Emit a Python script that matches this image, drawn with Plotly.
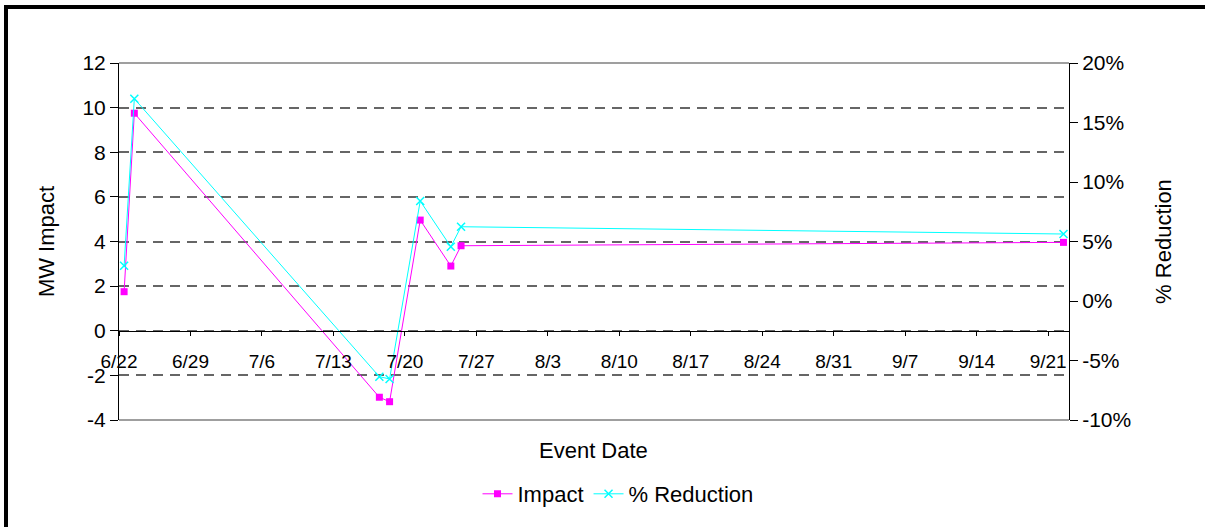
import plotly.graph_objects as go

# ---- data ----
event_dates = ["2008-06-22", "2008-06-23", "2008-07-17", "2008-07-18",
               "2008-07-21", "2008-07-24", "2008-07-25", "2008-09-22"]
impact_mw = [1.75, 9.75, -2.98, -3.18, 4.96, 2.90, 3.81, 3.96]
pct_reduction = [0.0297, 0.170, -0.0636, -0.0655, 0.084, 0.0456, 0.0624, 0.0563]

left_ticks = [-4, -2, 0, 2, 4, 6, 8, 10, 12]
left_labels = ["-4", "-2", "0", "2", "4", "6", "8", "10", "12"]
right_ticks = [-0.10, -0.05, 0.0, 0.05, 0.10, 0.15, 0.20]
right_labels = ["-10%", "-5%", "0%", "5%", "10%", "15%", "20%"]

FONT = "Liberation Sans, Arial, sans-serif"
DAY_MS = 86400000

# plot area in pixels (for paper conversions)
L, R, T, B = 119, 1069, 63, 420
W, H = 1205, 527


def px_x(p):
    return (p - L) / (R - L)


def px_y(p):
    return (B - p) / (B - T)


fig = go.Figure()
fig.add_trace(go.Scatter(
    x=event_dates, y=impact_mw, name="Impact", mode="lines+markers",
    xperiod=DAY_MS, xperiodalignment="middle",
    line=dict(color="#FF00FF", width=1),
    marker=dict(symbol="square", size=7, color="#FF00FF"),
    yaxis="y"))
fig.add_trace(go.Scatter(
    x=event_dates, y=pct_reduction, name="% Reduction", mode="lines+markers",
    xperiod=DAY_MS, xperiodalignment="middle",
    line=dict(color="#00FFFF", width=1),
    marker=dict(symbol="x-thin", size=8, color="#00FFFF",
                line=dict(color="#00FFFF", width=1.5)),
    yaxis="y2"))

fig.update_layout(
    width=W, height=H,
    margin=dict(l=L, r=W - R, t=T, b=H - B),
    paper_bgcolor="white", plot_bgcolor="white",
    font=dict(family=FONT, color="black", size=22),
    xaxis=dict(
        type="date",
        range=["2008-06-22", "2008-09-23 01:00"],
        tick0="2008-06-22", dtick=7 * DAY_MS, tickformat="%-m/%-d",
        anchor="free", position=4 / 16,
        showline=True, linecolor="black", linewidth=1,
        ticks="outside", ticklen=4, tickcolor="black",
        showgrid=False, zeroline=False,
        tickfont=dict(size=19, family=FONT),
        ticklabelstandoff=9,
    ),
    yaxis=dict(
        range=[-4, 12], tickvals=left_ticks, ticktext=left_labels,
        showline=True, linecolor="black", linewidth=1,
        ticks="outside", ticklen=8, tickcolor="black",
        showgrid=True, gridcolor="#666666", gridwidth=1.5, griddash="10px,7px",
        zeroline=False,
        tickfont=dict(size=21, family=FONT),
        title=dict(text="MW Impact", font=dict(size=22, family=FONT), standoff=21),
    ),
    yaxis2=dict(
        range=[-0.10, 0.20], tickvals=right_ticks, ticktext=right_labels,
        overlaying="y", side="right",
        showline=True, linecolor="black", linewidth=1,
        ticks="outside", ticklen=8, tickcolor="black",
        showgrid=False, zeroline=False,
        tickfont=dict(size=21, family=FONT),
        title=dict(text="% Reduction", font=dict(size=22, family=FONT), standoff=25),
    ),
    legend=dict(
        orientation="h", x=px_x(618), y=px_y(494),
        xanchor="center", yanchor="middle",
        font=dict(size=22, family=FONT), bgcolor="rgba(0,0,0,0)",
        tracegroupgap=0,
    ),
    showlegend=True,
)

# solid top/bottom frame lines of plot area
fig.add_shape(type="line", xref="paper", yref="paper", x0=0, x1=1, y0=1, y1=1,
              line=dict(color="#7f7f7f", width=1.5))
fig.add_shape(type="line", xref="paper", yref="paper", x0=0, x1=1, y0=0, y1=0,
              line=dict(color="#7f7f7f", width=1.5))

# outer thick black border (top and left visible)
fig.add_shape(type="rect", xref="paper", yref="paper",
              x0=px_x(6), x1=px_x(1215), y0=px_y(540), y1=px_y(7),
              line=dict(color="black", width=4), layer="above")

# x-axis title
fig.add_annotation(text="Event Date", xref="paper", yref="paper",
                   x=px_x(593), y=px_y(450), showarrow=False,
                   font=dict(size=22, family=FONT), xanchor="center", yanchor="middle")

fig.write_html("out.html")
